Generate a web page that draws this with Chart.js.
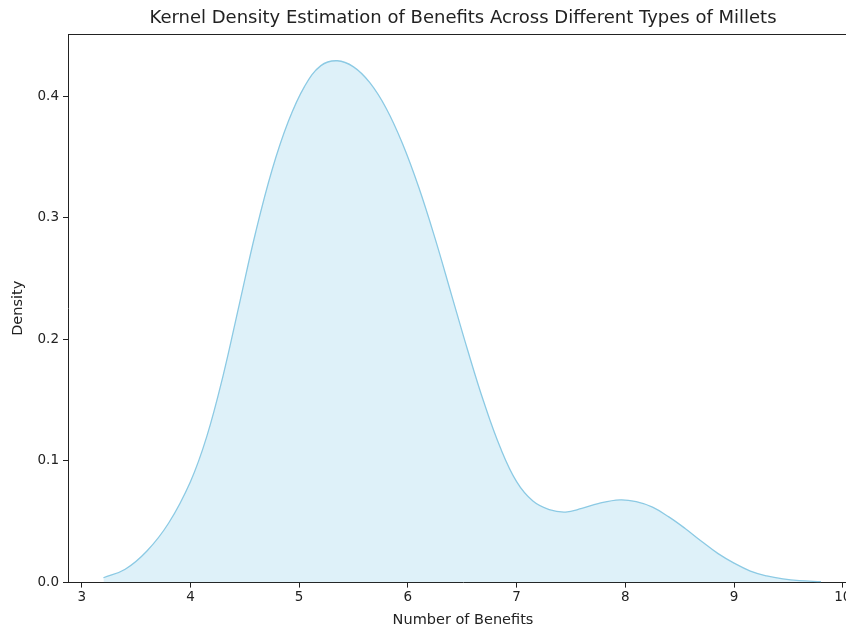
<!DOCTYPE html>
<html>
<head>
<meta charset="utf-8">
<script src="https://cdn.jsdelivr.net/npm/chart.js@4/dist/chart.umd.min.js"></script>
<style>
    html, body { margin: 0; padding: 0; background: #fff; overflow: hidden; }
    #wrap { width: 858px; height: 631px; }
</style>
</head>
<body>
<div id="wrap"><canvas id="kde-chart" width="858" height="631"></canvas></div>
<script>
// number of benefits (x) and estimated density (y)
const benefits = [3.20, 3.40, 3.60, 3.80, 4.00, 4.15, 4.30, 4.45, 4.60, 4.75,
    4.90, 5.05, 5.20, 5.35, 5.50, 5.65, 5.80, 5.95, 6.10, 6.25,
    6.40, 6.55, 6.70, 6.85, 7.00, 7.15, 7.30, 7.45, 7.60, 7.75,
    7.95, 8.10, 8.25, 8.40, 8.55, 8.70, 8.85, 9.00, 9.15, 9.30,
    9.45, 9.60, 9.80];
const density = [0.004, 0.011, 0.026, 0.049, 0.083, 0.120, 0.170, 0.229, 0.288, 0.339,
    0.379, 0.408, 0.425, 0.429, 0.424, 0.411, 0.390, 0.361, 0.325, 0.283,
    0.237, 0.191, 0.148, 0.111, 0.083, 0.067, 0.060, 0.058, 0.061, 0.065,
    0.068, 0.0665, 0.062, 0.054, 0.0445, 0.034, 0.024, 0.016, 0.0095, 0.0055,
    0.003, 0.0016, 0.0008];

const xTicks = [3, 4, 5, 6, 7, 8, 9, 10];
const yTicks = [0.0, 0.1, 0.2, 0.3, 0.4];

const textColor = '#222';
const font = 'DejaVu Sans';

// matplotlib style top spine
const topSpine = {
    id: 'topSpine',
    afterDraw(chart) {
        const {ctx, chartArea} = chart;
        ctx.save();
        ctx.strokeStyle = textColor;
        ctx.lineWidth = 1;
        ctx.beginPath();
        ctx.moveTo(chartArea.left, chartArea.top + 0.5);
        ctx.lineTo(chartArea.right, chartArea.top + 0.5);
        ctx.stroke();
        ctx.restore();
    }
};

document.addEventListener("DOMContentLoaded", function () {
    const ctx = document.getElementById('kde-chart');

    new Chart(ctx, {
        type: 'line',
        data: {
            datasets: [{
                label: 'Density',
                data: benefits.map((b, i) => ({x: b, y: density[i]})),
                borderColor: 'rgb(140, 202, 228)',
                borderWidth: 1.3,
                backgroundColor: 'rgba(135, 206, 235, 0.28)',
                fill: 'origin',
                pointRadius: 0,
                tension: 0.4
            }]
        },
        options: {
            responsive: false,
            animation: false,
            layout: {padding: 0},
            plugins: {
                legend: {display: false},
                tooltip: {enabled: false},
                title: {
                    display: true,
                    fullSize: false,
                    text: 'Kernel Density Estimation of Benefits Across Different Types of Millets',
                    color: textColor,
                    font: {family: font, size: 18, weight: 'normal', lineHeight: 1.2},
                    padding: {top: 7.2, bottom: 5.2}
                }
            },
            scales: {
                x: {
                    type: 'linear',
                    min: 2.874,
                    max: 10.14,
                    afterBuildTicks: s => { s.ticks = xTicks.map(v => ({value: v})); },
                    afterFit: s => { s.height = 48.4; s.paddingLeft = 0; s.paddingRight = 0; },
                    ticks: {
                        color: textColor,
                        font: {family: font, size: 13.5},
                        padding: 2,
                        maxRotation: 0,
                        callback: v => String(v)
                    },
                    grid: {drawOnChartArea: false, drawTicks: true, tickLength: 5, color: textColor},
                    border: {display: true, color: textColor, width: 1},
                    title: {
                        display: true,
                        text: 'Number of Benefits',
                        color: textColor,
                        font: {family: font, size: 14.5, lineHeight: 1.2},
                        padding: {top: 0, bottom: 2.3}
                    }
                },
                y: {
                    min: 0,
                    max: 0.451,
                    afterBuildTicks: s => { s.ticks = yTicks.map(v => ({value: v})); },
                    afterFit: s => { s.width = 68; s.paddingTop = 0; s.paddingBottom = 0; },
                    ticks: {
                        color: textColor,
                        font: {family: font, size: 13.5},
                        padding: 4,
                        callback: v => v.toFixed(1)
                    },
                    grid: {drawOnChartArea: false, drawTicks: true, tickLength: 5, color: textColor},
                    border: {display: true, color: textColor, width: 1},
                    title: {
                        display: true,
                        text: 'Density',
                        color: textColor,
                        font: {family: font, size: 14.5, lineHeight: 1.2},
                        padding: {top: 9.3, bottom: 0}
                    }
                }
            }
        },
        plugins: [topSpine]
    });
});
</script>
</body>
</html>
